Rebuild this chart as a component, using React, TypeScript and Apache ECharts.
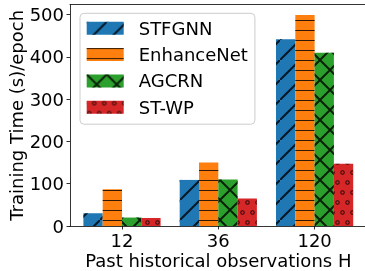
import React, { useEffect, useRef } from "react";
import * as echarts from "echarts";

const categories = ["12", "36", "120"];
const seriesNames = ["STFGNN", "EnhanceNet", "AGCRN", "ST-WP"];
const stfgnn = [30, 109, 442];
const enhanceNet = [87, 150, 499];
const agcrn = [20, 110, 410];
const stwp = [19, 65, 147];
const yTicks = [0, 100, 200, 300, 400, 500];

const colors = ["#1f77b4", "#ff7f0e", "#2ca02c", "#d62728"];
const hatchColor = "rgba(0,0,0,0.8)";
const FONT = "DejaVu Sans";

const decals: any[] = [
  {
    symbol: "path://M0,20L1.4,20L20,1.4L20,0L18.6,0L0,18.6Z",
    dashArrayX: [20, 0],
    dashArrayY: [20, 0],
    symbolSize: 1,
    color: hatchColor,
  },
  {
    symbol: "rect",
    dashArrayX: [10, 0],
    dashArrayY: [1, 9],
    symbolSize: 1,
    color: hatchColor,
  },
  {
    symbol:
      "path://M0,0L1.4,0L20,18.6L20,20L18.6,20L0,1.4Z M18.6,0L20,0L20,1.4L1.4,20L0,20L0,18.6Z",
    dashArrayX: [20, 0],
    dashArrayY: [20, 0],
    symbolSize: 1,
    color: hatchColor,
  },
  {
    symbol:
      "path://M0,5A5,5 0 0,1 10,5L7.8,5A2.8,2.8 0 0,0 2.2,5Z M0,5L2.2,5A2.8,2.8 0 0,0 7.8,5L10,5A5,5 0 0,1 0,5Z",
    dashArrayX: [
      [5, 5],
      [0, 5, 5, 0],
    ],
    dashArrayY: [5, 5],
    symbolSize: 0.9,
    color: hatchColor,
  },
];

export default function App() {
  const ref = useRef<HTMLDivElement>(null);
  useEffect(() => {
    if (!ref.current) return;
    const chart = echarts.init(ref.current, null, { renderer: "svg" });
    const data = [stfgnn, enhanceNet, agcrn, stwp];
    const axisLineStyle = { color: "#000", width: 0.8 };
    chart.setOption({
      animation: false,
      textStyle: { fontFamily: FONT },
      grid: {
        left: 70,
        width: 296.6,
        top: 4.7,
        bottom: 45,
        containLabel: false,
        outerBoundsMode: "none",
      },
      legend: {
        orient: "vertical",
        left: 80,
        top: 13.3,
        padding: [6, 7, 8, 6.7],
        itemWidth: 37,
        itemHeight: 13,
        itemGap: 8.3,
        icon: "rect",
        backgroundColor: "rgba(255,255,255,0.8)",
        borderColor: "#cccccc",
        borderWidth: 1,
        borderRadius: 4,
        textStyle: {
          fontFamily: FONT,
          fontSize: 18,
          lineHeight: 18,
          color: "#000",
          padding: [0, 0, 0, 10],
        },
        data: seriesNames,
      },
      xAxis: [
        {
          type: "value",
          min: -0.54,
          max: 2.54,
          name: "Past historical observations H",
          nameLocation: "middle",
          nameGap: 26,
          nameMoveOverlap: false,
          nameTextStyle: { fontFamily: FONT, fontSize: 18, lineHeight: 16, color: "#000" },
          splitLine: { show: false },
          axisLine: { show: true, onZero: false, lineStyle: axisLineStyle },
          axisTick: {
            show: true,
            length: 3.5,
            lineStyle: axisLineStyle,
            customValues: [0, 1, 2],
          },
          axisLabel: {
            customValues: [0, 1, 2],
            formatter: (v: number) => categories[Math.round(v)] ?? "",
            fontFamily: FONT,
            fontSize: 18,
            lineHeight: 16,
            color: "#000",
            margin: 6.5,
          },
        },
        {
          type: "value",
          position: "top",
          min: -0.54,
          max: 2.54,
          splitLine: { show: false },
          axisLine: { show: true, onZero: false, lineStyle: axisLineStyle },
          axisTick: { show: false },
          axisLabel: { show: false },
        },
      ],
      yAxis: [
        {
          type: "value",
          min: 0,
          max: 523.5,
          name: "Training Time (s)/epoch",
          nameLocation: "middle",
          nameGap: 45,
          nameMoveOverlap: false,
          nameTextStyle: { fontFamily: FONT, fontSize: 18, lineHeight: 18, color: "#000" },
          splitLine: { show: false },
          axisLine: { show: true, onZero: false, lineStyle: axisLineStyle },
          axisTick: {
            show: true,
            length: 3.5,
            lineStyle: axisLineStyle,
            customValues: yTicks,
          },
          axisLabel: {
            customValues: yTicks,
            fontFamily: FONT,
            fontSize: 18,
            lineHeight: 18,
            color: "#000",
            margin: 6,
          },
        },
        {
          type: "value",
          position: "right",
          min: 0,
          max: 523.5,
          splitLine: { show: false },
          axisLine: { show: true, onZero: false, lineStyle: axisLineStyle },
          axisTick: { show: false },
          axisLabel: { show: false },
        },
      ],
      series: seriesNames.map((name, s) => ({
        name,
        type: "bar",
        xAxisIndex: 0,
        yAxisIndex: 0,
        barWidth: 19.3,
        barGap: "0%",
        itemStyle: { color: colors[s], decal: decals[s] },
        data: data[s].map((v, i) => [i, v]),
      })),
    });
    return () => chart.dispose();
  }, []);
  return (
    <div
      ref={ref}
      style={{ position: "fixed", left: 0, top: 0, width: 365, height: 271 }}
    />
  );
}
